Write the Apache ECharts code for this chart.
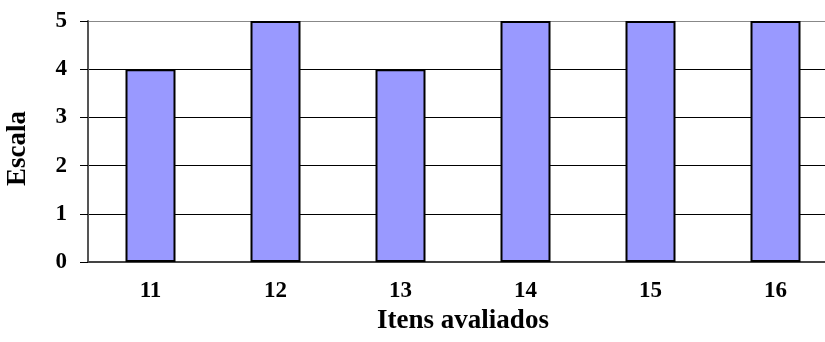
<!DOCTYPE html>
<html>
<head>
<meta charset="utf-8">
<script src="https://cdn.jsdelivr.net/npm/echarts@6/dist/echarts.min.js"></script>
<style>
  html, body { margin: 0; padding: 0; background: #fff; }
  #main { width: 825px; height: 342px; }
</style>
</head>
<body>
<div id="main"></div>
<script>
var categories = ['11', '12', '13', '14', '15', '16'];
var values = [4, 5, 4, 5, 5, 5];
var yTicks = [0, 1, 2, 3, 4, 5];

var myChart = echarts.init(document.getElementById('main'));
var font = '"Liberation Serif", "Times New Roman", serif';

var option = {
    animation: false,
    grid: { left: 88, right: -13, top: 21, bottom: 80, outerBoundsMode: 'none', containLabel: false },
    xAxis: {
        type: 'category',
        data: categories,
        name: 'Itens avaliados',
        nameLocation: 'middle',
        nameGap: 46,
        nameTextStyle: { fontFamily: font, fontWeight: 'bold', fontSize: 27, color: '#000' },
        axisLine: { lineStyle: { color: '#444', width: 2 } },
        axisTick: { show: false },
        axisLabel: { fontFamily: font, fontWeight: 'bold', fontSize: 23, color: '#000', margin: 18 }
    },
    yAxis: {
        type: 'value',
        min: yTicks[0],
        max: yTicks[yTicks.length - 1],
        interval: 1,
        name: 'Escala',
        nameLocation: 'middle',
        nameGap: 56,
        nameTextStyle: { fontFamily: font, fontWeight: 'bold', fontSize: 27, color: '#000', padding: [0, 14, 0, 0] },
        axisLine: { show: true, lineStyle: { color: '#555', width: 2 } },
        axisTick: { show: true, length: 8, lineStyle: { color: '#000' } },
        axisLabel: { fontFamily: font, fontWeight: 'bold', fontSize: 23, color: '#000', margin: 21 },
        splitLine: { lineStyle: { color: ['#444', '#000', '#000', '#000', '#000', '#888'], width: 1 } }
    },
    series: [{
        type: 'bar',
        data: values,
        barWidth: '40%',
        itemStyle: { color: '#9999FF', borderColor: '#000', borderWidth: 2 }
    }]
};

myChart.setOption(option);
</script>
</body>
</html>
